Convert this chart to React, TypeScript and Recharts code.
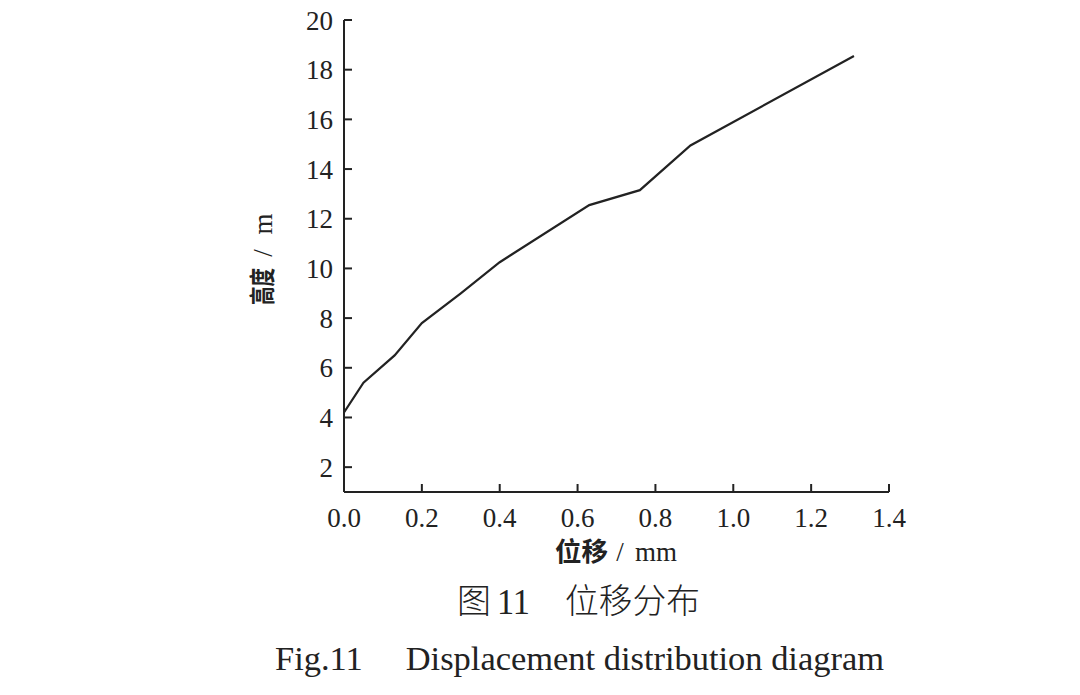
import { LineChart, Line, XAxis, YAxis, Label } from "recharts";

// values
const displacementMm = [0, 0.05, 0.13, 0.2, 0.3, 0.4, 0.63, 0.76, 0.89, 1.31];
const heightM = [4.2, 5.4, 6.5, 7.8, 9.0, 10.25, 12.55, 13.15, 14.95, 18.55];
const xTicks = [0, 0.2, 0.4, 0.6, 0.8, 1.0, 1.2, 1.4];
const yTicks = [2, 4, 6, 8, 10, 12, 14, 16, 18, 20];

const data = displacementMm.map((x, i) => ({ x, h: heightM[i] }));

const ink = "#222";
const serif = "'Liberation Serif', 'DejaVu Serif', serif";
const cjk = "'Noto Sans CJK SC', sans-serif";

function YTitle(props: any) {
  const vb = props.viewBox || { x: 0, y: 0, width: 0, height: 0 };
  const cy = vb.y + vb.height / 2 + 4;
  return (
    <g transform={`translate(263 ${cy}) rotate(-90)`}>
      <text x={-45} y={9} fontFamily={cjk} fontWeight={700} fontSize={26} fill={ink} textLength={37} lengthAdjust="spacingAndGlyphs">
        高度
      </text>
      <text x={7} y={9} textAnchor="middle" fontFamily={serif} fontSize={27} fill={ink}>
        /
      </text>
      <text x={36} y={9} textAnchor="middle" fontFamily={serif} fontSize={27} fill={ink}>
        m
      </text>
    </g>
  );
}

function XTitle() {
  return (
    <g>
      <text x={555} y={561} fontFamily={cjk} fontWeight={700} fontSize={26} fill={ink} textLength={53} lengthAdjust="spacingAndGlyphs">
        位移
      </text>
      <text x={620} y={561} textAnchor="middle" fontFamily={serif} fontSize={27} fill={ink}>
        /
      </text>
      <text x={635} y={561} fontFamily={serif} fontSize={27} fill={ink}>
        mm
      </text>
    </g>
  );
}

export default function App() {
  return (
    <div style={{ position: "absolute", left: 0, top: 0, width: 1080, height: 695, background: "#fff" }}>
      <LineChart width={1080} height={580} data={data} margin={{ top: 20, right: 191, left: 0, bottom: 0 }}>
        <XAxis
          type="number"
          dataKey="x"
          domain={[0, 1.4]}
          ticks={xTicks}
          tickFormatter={(v: number) => v.toFixed(1)}
          height={88}
          stroke={ink}
          strokeWidth={2}
          tickSize={-8}
          tickMargin={24}
          tick={{ fill: ink, fontSize: 27, fontFamily: serif }}
          allowDataOverflow
        >
          <Label content={<XTitle />} />
        </XAxis>
        <YAxis
          type="number"
          domain={[1, 20]}
          ticks={yTicks}
          width={344}
          stroke={ink}
          strokeWidth={2}
          tickSize={-8}
          tickMargin={19}
          tick={{ fill: ink, fontSize: 27, fontFamily: serif }}
          allowDataOverflow
        >
          <Label content={<YTitle />} />
        </YAxis>
        <Line
          type="linear"
          dataKey="h"
          stroke={ink}
          strokeWidth={2.2}
          dot={false}
          isAnimationActive={false}
        />
      </LineChart>
      <svg width={1080} height={695} style={{ position: "absolute", left: 0, top: 0, pointerEvents: "none" }}>
        <text x={457} y={613} fontFamily={cjk} fontWeight={300} fontSize={34} fill={ink}>
          图
        </text>
        <text x={497} y={614} fontFamily={serif} fontSize={35} fill={ink} textLength={33} lengthAdjust="spacingAndGlyphs">
          11
        </text>
        <text x={565} y={613} fontFamily={cjk} fontWeight={300} fontSize={34} fill={ink} textLength={135} lengthAdjust="spacingAndGlyphs">
          位移分布
        </text>
        <text x={275} y={670} fontFamily={serif} fontSize={33} fill={ink} textLength={609} lengthAdjust="spacingAndGlyphs">
          Fig.11{"\u2003\u00a0"}Displacement distribution diagram
        </text>
      </svg>
    </div>
  );
}
